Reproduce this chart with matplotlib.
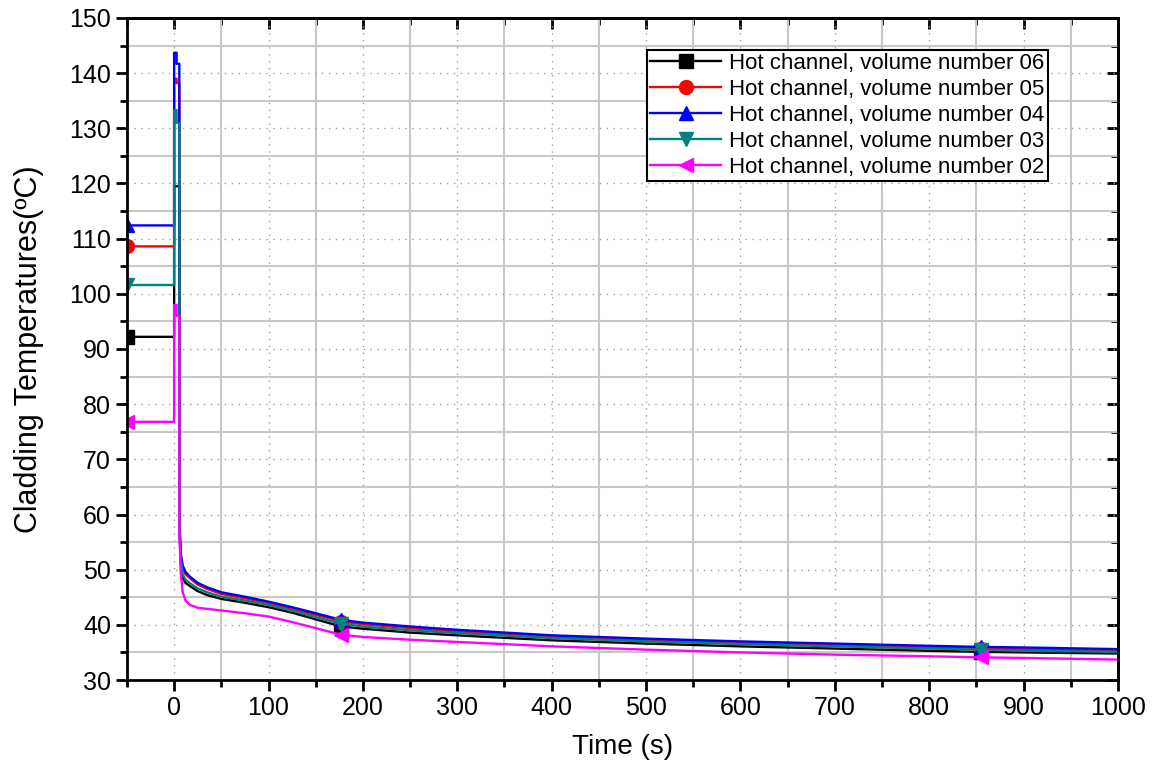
import matplotlib.pyplot as plt
from matplotlib.ticker import MultipleLocator

plt.rcParams['font.family'] = ['Liberation Sans', 'DejaVu Sans']

# Tempo (s), comum a todas as curvas
tempo = [-50, 0, 0, 2.6, 2.6, 5.5, 5.5, 7, 9, 12, 17, 25, 35, 50, 75, 100,
         125, 150, 177, 200, 250, 300, 400, 500, 600, 700, 800, 855, 900, 1000]

# Temperaturas (ºC)
vol06 = [92.2, 92.2, 119.5, 119.5, 119.5, 119.5, 58.0, 51.0, 48.5, 47.6, 47.0, 46.1,
         45.4, 44.7, 44.0, 43.2, 42.2, 41.0, 39.7, 39.3, 38.6, 38.1, 37.2, 36.6,
         36.1, 35.7, 35.3, 35.1, 35.0, 34.8]
vol05 = [108.6, 108.6, 139.0, 139.0, 138.2, 138.2, 59.0, 52.5, 50.3, 49.2, 48.4, 47.3,
         46.5, 45.6, 44.8, 43.9, 42.9, 41.8, 40.6, 40.1, 39.4, 38.8, 37.8, 37.2,
         36.7, 36.3, 35.9, 35.7, 35.6, 35.3]
vol04 = [112.4, 112.4, 143.7, 143.7, 141.7, 141.7, 59.5, 53.0, 50.8, 49.6, 48.7, 47.6,
         46.8, 45.9, 45.1, 44.2, 43.2, 42.1, 40.9, 40.4, 39.7, 39.1, 38.1, 37.5,
         37.0, 36.6, 36.2, 36.0, 35.9, 35.6]
vol03 = [101.6, 101.6, 133.3, 133.3, 131.0, 131.0, 58.5, 51.8, 49.2, 48.2, 47.5, 46.6,
         45.9, 45.1, 44.4, 43.6, 42.6, 41.4, 40.2, 39.7, 39.0, 38.5, 37.6, 37.0,
         36.5, 36.1, 35.7, 35.5, 35.3, 35.1]
vol02 = [76.8, 76.8, 98.0, 98.0, 96.0, 96.0, 57.0, 49.5, 46.0, 44.4, 43.6, 43.1,
         42.9, 42.6, 42.1, 41.5, 40.5, 39.4, 38.2, 37.8, 37.3, 36.9, 36.1, 35.5,
         35.0, 34.6, 34.3, 34.1, 34.0, 33.7]

series = [(vol06, 'black', 's', 'Hot channel, volume number 06'),
          (vol05, 'red', 'o', 'Hot channel, volume number 05'),
          (vol04, 'blue', '^', 'Hot channel, volume number 04'),
          (vol03, '#008080', 'v', 'Hot channel, volume number 03'),
          (vol02, 'magenta', '<', 'Hot channel, volume number 02')]

# Pontos com marcador: -50, 177 e 855 s
marcas = [0, tempo.index(177), tempo.index(855)]

fig = plt.figure(figsize=(11.53, 7.65), dpi=100)
ax = fig.add_axes([0.1101, 0.1111, 0.8595, 0.8654])

for valores, cor, marcador, rotulo in series:
    ax.plot(tempo, valores, color=cor, lw=1.7, marker=marcador, markersize=10,
            markevery=marcas, label=rotulo)

ax.set_xlim(-50, 1000)
ax.set_ylim(30, 150)
ax.xaxis.set_major_locator(MultipleLocator(100))
ax.xaxis.set_minor_locator(MultipleLocator(50))
ax.yaxis.set_major_locator(MultipleLocator(10))
ax.yaxis.set_minor_locator(MultipleLocator(5))

# Grade: linhas contínuas nas divisões menores, pontilhadas nas maiores
ax.grid(which='minor', color='#c8c8c8', lw=1.5, ls='-')
ax.grid(which='major', color='#a0a0a0', lw=1, ls=(0, (1, 4)))
ax.set_axisbelow(True)

ax.tick_params(which='major', direction='out', length=8, width=2, labelsize=18)
ax.tick_params(which='minor', direction='out', length=5, width=2)
for lado in ax.spines.values():
    lado.set_linewidth(2)

# Ticks internos nos eixos de cima e da direita
direita = ax.secondary_yaxis('right')
topo = ax.secondary_xaxis('top')
for sec in (direita, topo):
    sec.tick_params(which='major', direction='in', length=8, width=2,
                    labelright=False, labeltop=False)
    sec.tick_params(which='minor', direction='in', length=5, width=2)
    for lado in sec.spines.values():
        lado.set_linewidth(2)
direita.yaxis.set_major_locator(MultipleLocator(10))
direita.yaxis.set_minor_locator(MultipleLocator(5))
topo.xaxis.set_major_locator(MultipleLocator(100))
topo.xaxis.set_minor_locator(MultipleLocator(50))

ax.set_xlabel('Time (s)', fontsize=20, labelpad=10)
ax.set_ylabel('Cladding Temperatures(ºC)', fontsize=22, labelpad=18)

leg = ax.legend(loc='upper right', bbox_to_anchor=(0.929, 0.952), borderaxespad=0,
                fontsize=16, fancybox=False, edgecolor='black', framealpha=1,
                handlelength=3.2, labelspacing=0.22, borderpad=0.15, handletextpad=0.35)
leg.get_frame().set_linewidth(1.5)

plt.savefig('out.png')
